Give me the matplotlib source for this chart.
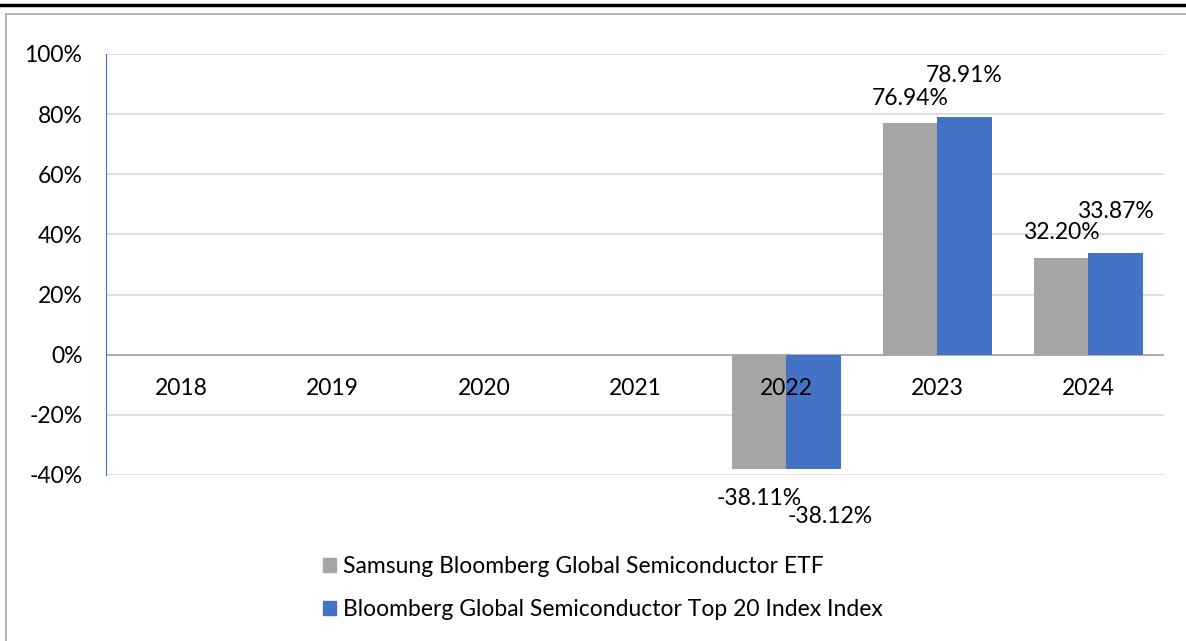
import numpy as np
import matplotlib.pyplot as plt
from matplotlib.lines import Line2D
from matplotlib.patches import Patch

plt.rcParams['font.family'] = ['Lato', 'DejaVu Sans']

years = ['2018', '2019', '2020', '2021', '2022', '2023', '2024']
etf = [np.nan, np.nan, np.nan, np.nan, -38.11, 76.94, 32.20]
index = [np.nan, np.nan, np.nan, np.nan, -38.12, 78.91, 33.87]
series_names = ['Samsung Bloomberg Global Semiconductor ETF',
                'Bloomberg Global Semiconductor Top 20 Index Index']
colors = ['#A5A5A5', '#4472C4']
FS = 16.5

#------------------------------------------------------------------
fig = plt.figure(figsize=(11.86, 6.41), dpi=100)
W, H = 1186, 641
ax = fig.add_axes([106 / W, 1 - 475 / H, (1164 - 106) / W, (475 - 54) / H])

x = np.arange(len(years))
bw = 0.36
bars1 = ax.bar(x - bw / 2, etf, bw, color=colors[0], zorder=3)
bars2 = ax.bar(x + bw / 2, index, bw, color=colors[1], zorder=3)

ax.set_xlim(-0.5, len(years) - 0.5)
ax.set_ylim(-40, 100)
ax.set_yticks(np.arange(-40, 101, 20))
ax.set_yticklabels([f'{v}%' for v in range(-40, 101, 20)], fontsize=FS)
ax.set_xticks([])
ax.grid(axis='y', color='#D9D9D9', linewidth=1.2, zorder=0)
ax.axhline(0, color='#A6A6A6', linewidth=1.2, zorder=2)
for s in ['top', 'right', 'bottom']:
    ax.spines[s].set_visible(False)
ax.spines['left'].set_color('#4472C4')
ax.spines['left'].set_linewidth(0.8)
ax.tick_params(axis='y', length=0, pad=17)

# category labels sit just under the zero line
for i, y in enumerate(years):
    ax.annotate(y, (x[i], 0), xytext=(0, -24), textcoords='offset points',
                ha='center', va='center', fontsize=FS, zorder=5)

# data labels, staggered like the original
def label_bars(vals, xs, up, down, dx_neg=0):
    for xi, v in zip(xs, vals):
        if np.isnan(v):
            continue
        if v >= 0:
            off = (0, up)
        else:
            off = (dx_neg, -down)
        ax.annotate(f'{v:.2f}%', (xi, v), xytext=off, textcoords='offset points',
                    ha='center', va='center', fontsize=FS, zorder=5)

label_bars(etf, x - bw / 2, 18, 21)
label_bars(index, x + bw / 2, 30, 34, dx_neg=12)

# legend
handles = [Patch(color=colors[0]), Patch(color=colors[1])]
fig.legend(handles, series_names, loc='upper left',
           bbox_to_anchor=(314 / W, 1 - 547 / H), frameon=False,
           fontsize=FS, handlelength=0.55, handleheight=0.55,
           handletextpad=0.3, labelspacing=0.95, borderaxespad=0)

# outer frame lines
fig.add_artist(Line2D([0, 1], [1 - 5 / H, 1 - 5 / H], color='black', linewidth=2.5))
fig.add_artist(Line2D([6 / W, 1], [1 - 14 / H, 1 - 14 / H], color='#A6A6A6', linewidth=1.2))
fig.add_artist(Line2D([6 / W, 6 / W], [0, 1 - 14 / H], color='#A6A6A6', linewidth=1.2))

fig.savefig('out.png', dpi=100)
